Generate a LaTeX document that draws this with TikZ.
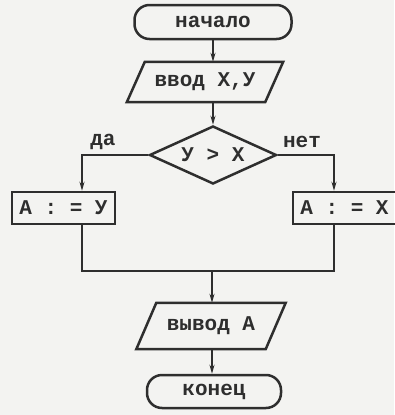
\documentclass[tikz,border=0pt]{standalone}
\usepackage{fontspec}
\setmonofont{Liberation Mono}
\usetikzlibrary{shapes.geometric,arrows.meta}
\definecolor{ink}{HTML}{2E2E2E}
\definecolor{paper}{HTML}{F3F3F1}
\begin{document}
\begin{tikzpicture}[x=1pt,y=-1pt,
  every node/.style={font=\ttfamily\bfseries\fontsize{21}{24}\selectfont, text=ink},
  line/.style={draw=ink, line width=2.5pt},
  arr/.style={line, -{Stealth[length=9pt,width=5pt]}},
  term/.style={line, rectangle, rounded corners=15pt, inner sep=0pt},
  iobody/.style={rectangle, inner sep=0pt},
  proc/.style={line, rectangle, inner sep=0pt, minimum height=32pt, minimum width=103pt},
  dec/.style={line, diamond, aspect=2.2, inner sep=0pt, minimum width=127pt, minimum height=58pt}
  ]
\fill[paper] (0,0) rectangle (394,415);
\useasboundingbox (0,0) rectangle (394,415);

\node[term, minimum width=157pt, minimum height=34pt] (start) at (213,22) {начало};
\node[iobody, minimum width=138pt, minimum height=40pt] (in) at (205,82) {ввод Х,У};
\draw[line] ([xshift=-9pt]in.south west) -- ([xshift=-9pt]in.south east)
  -- ([xshift=9pt]in.north east) -- ([xshift=9pt]in.north west) -- cycle;
\node[dec] (cond) at (213,155) {У > Х};
\node (yes) at (103,142) {да};
\node (no) at (302,142) {нет};
\node[proc] (bl) at (63.5,208) {А : = У};
\node[proc] (br) at (344.5,208) {А : = Х};
\node[iobody, minimum width=129pt, minimum height=46pt] (out) at (211,326) {вывод А};
\draw[line] ([xshift=-10pt]out.south west) -- ([xshift=-10pt]out.south east)
  -- ([xshift=10pt]out.north east) -- ([xshift=10pt]out.north west) -- cycle;
\node[term, minimum width=134pt, minimum height=33pt] (end) at (214,391.5) {конец};

\coordinate (jl) at (82,155);
\coordinate (jr) at (334,155);
\coordinate (ml) at (82,271);
\coordinate (mr) at (334,271);
\coordinate (mc) at (212,271);

\draw[arr] (start.south) -- (start.south |- in.north);
\draw[arr] (in.south -| cond.north) -- (cond.north);
\draw[arr] (cond.west) -- (jl) -- (jl |- bl.north);
\draw[arr] (cond.east) -- (jr) -- (jr |- br.north);
\draw[line] (jl |- bl.south) -- (ml) -- (mr) -- (jr |- br.south);
\draw[arr] (mc) -- (mc |- out.north);
\draw[arr] (mc |- out.south) -- (mc |- end.north);
\end{tikzpicture}
\end{document}
